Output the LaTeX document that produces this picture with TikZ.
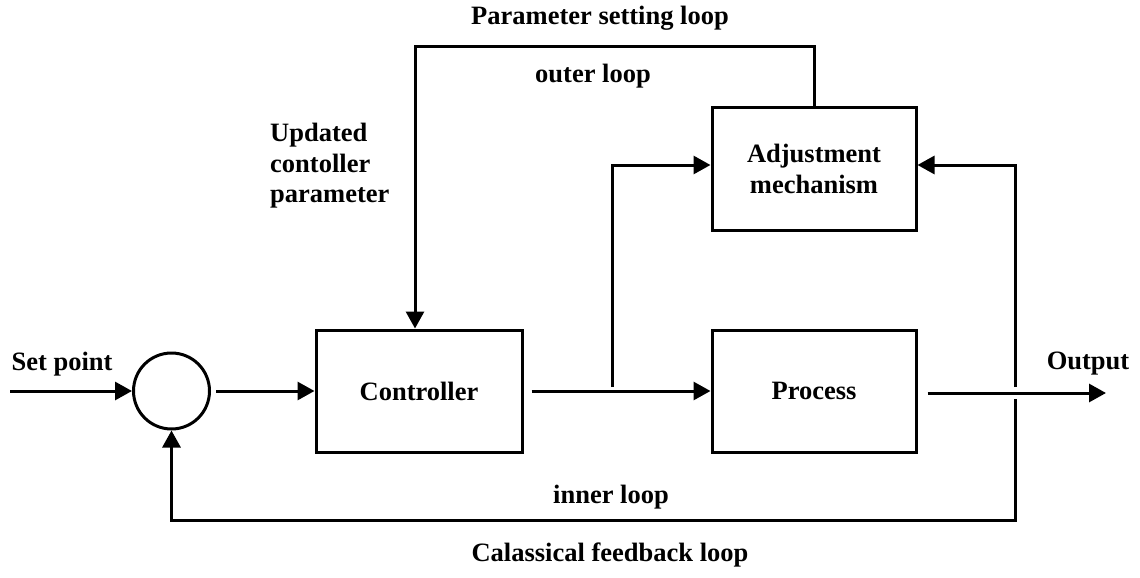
\documentclass[tikz,border=0pt]{standalone}
\usepackage{fontspec}
\setmainfont{Liberation Serif}
\usetikzlibrary{arrows.meta,calc}
\begin{document}
\begin{tikzpicture}[x=1pt,y=-1pt,
  lbl/.style={font=\fontsize{26.5}{30.5}\selectfont\bfseries, inner sep=0pt},
  blk/.style={draw, line width=3pt, inner sep=0pt, font=\fontsize{26.5}{31}\selectfont\bfseries, align=center},
  arr/.style={line width=3pt, -{Triangle[length=17pt,width=18pt]}}]
\useasboundingbox (0,0) rectangle (1140,578);
% blocks
\node[blk, circle, minimum size=76pt] (sum) at (171.5,391) {};
\node[blk, minimum width=206pt, minimum height=122pt] (ctrl) at (419,391) {Controller};
\node[blk, minimum width=204pt, minimum height=123pt] (adj) at (814,169) {Adjustment\\mechanism};
\node[blk, minimum width=204pt, minimum height=122pt] (proc) at (814,391) {Process};
% coordinates
\coordinate (sp) at (10,391);
\coordinate (out) at (1106,393);
\coordinate (br) at (612,387);
\coordinate (fb) at (1015,393);
\coordinate (fbl) at (1015,520);
\coordinate (topl) at (415,47);
% labels
\node[lbl] (lsp) at (62,364) {Set point};
\node[lbl] (lout) at (1088,364) {Output};
\node[lbl] (lpar) at (600,18) {Parameter setting loop};
\node[lbl] (louter) at (593,76) {outer loop};
\node[lbl, align=left, anchor=north west] (lupd) at (270,123) {Updated\\contoller\\parameter};
\node[lbl] (linner) at (611,497) {inner loop};
\node[lbl] (lcl) at (610,555) {Calassical feedback loop};
% connectors
\draw[arr] (sp) -- (sum.west);
\draw[arr, shorten <=5pt] (sum.east) -- (ctrl.west);
\draw[arr, shorten <=8pt] (ctrl.east) -- (ctrl.east -| proc.west);
\draw[arr] (br) |- ([yshift=4pt]adj.west);
\draw[arr, shorten <=10pt] (proc.east |- out) -- (out);
\draw[arr] ([yshift=6pt]fb) |- ([yshift=4pt]adj.east);
\draw[arr] ([yshift=-6pt]fb) -- (fbl) -| (sum.south);
\draw[arr] (adj.north) -- (adj.north |- topl) -- (topl) -- (topl |- ctrl.north);
\end{tikzpicture}
\end{document}
